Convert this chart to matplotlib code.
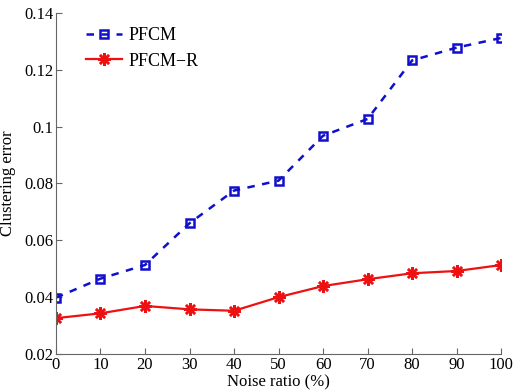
import numpy as np
import matplotlib
matplotlib.use('Agg')
import matplotlib.pyplot as plt

plt.rcParams['font.family'] = ['Liberation Serif', 'DejaVu Serif']

noise = [0, 10, 20, 30, 40, 50, 60, 70, 80, 90, 100]
pfcm = [0.0398, 0.0465, 0.0513, 0.066, 0.0775, 0.081, 0.0968, 0.1027, 0.1233, 0.1278, 0.1312]
pfcm_r = [0.0326, 0.0343, 0.0369, 0.0357, 0.0352, 0.0400, 0.0439, 0.0463, 0.0484, 0.0492, 0.0513]

fig = plt.figure(figsize=(5.13, 3.92), dpi=100)
ax = fig.add_axes([0.109, 0.097, 0.868, 0.870])

ax.plot(noise, pfcm, '--s', color='#1010cc', linewidth=1.8, markersize=6,
        markerfacecolor='none', markeredgewidth=1.8, dashes=(3, 3), label='PFCM')
ax.plot(noise, pfcm_r, '-', marker=(8, 2, 0), color='#ee1111', linewidth=1.6,
        markersize=9, markeredgewidth=1.8, label='PFCM\u2212R')

ax.set_xlim(0, 100)
ax.set_ylim(0.02, 0.14)
ax.set_xticks(noise)
ax.set_yticks([0.02, 0.04, 0.06, 0.08, 0.1, 0.12, 0.14])
ax.set_yticklabels(['0.02', '0.04', '0.06', '0.08', '0.1', '0.12', '0.14'])

for s in ['top', 'right']:
    ax.spines[s].set_visible(False)
for s in ['left', 'bottom']:
    ax.spines[s].set_color('#666666')
ax.tick_params(direction='in', length=4, color='#666666', labelsize=12, pad=2)

ax.set_xlabel('Noise ratio (%)', fontsize=12, labelpad=1)
ax.set_ylabel('Clustering error', fontsize=12, labelpad=6)

ax.legend(loc='upper left', bbox_to_anchor=(0.03, 1.005), frameon=False,
          fontsize=13, handlelength=2.0, handletextpad=0.4, labelspacing=0.45)

fig.savefig('out.png', dpi=100)
